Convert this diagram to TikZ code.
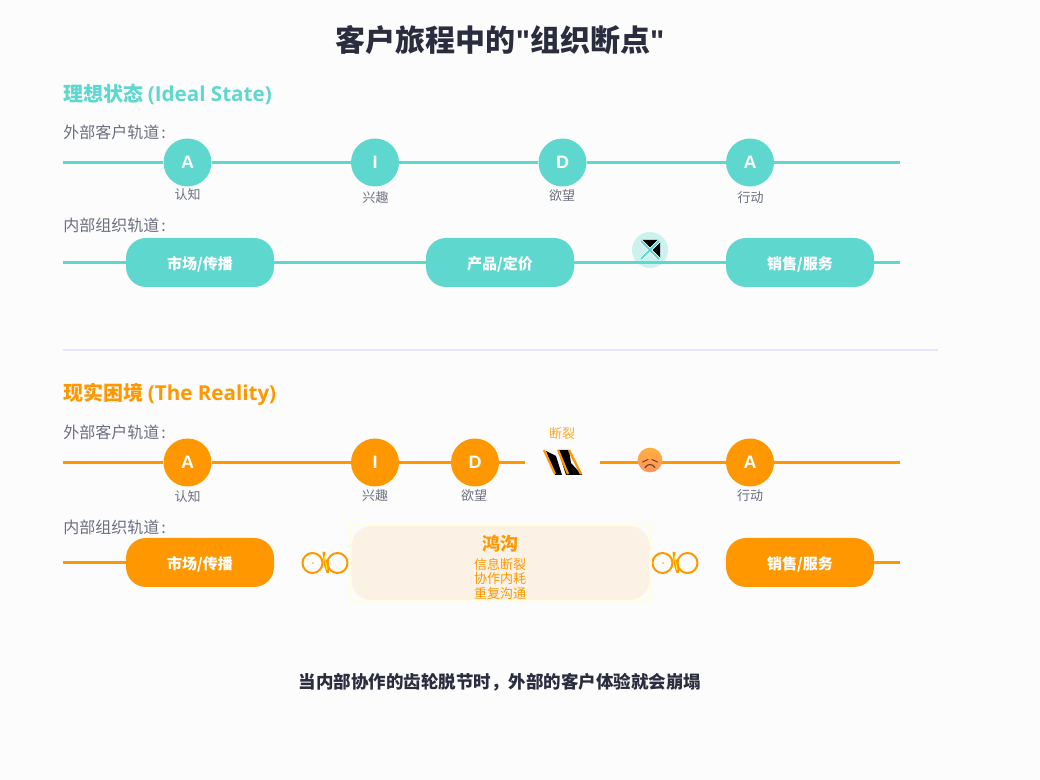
\documentclass[tikz,border=0pt]{standalone}
\usepackage{fontspec}
\setmainfont{Noto Sans CJK SC}
\newfontfamily\lat[Scale=1.03]{Open Sans}
\newfontfamily\ari{Liberation Sans}
\usetikzlibrary{shadings}
\definecolor{bgc}{HTML}{FCFCFD}
\definecolor{teal}{HTML}{5ED8CE}
\definecolor{orng}{HTML}{FF9800}
\definecolor{darkt}{HTML}{2A2D3E}
\definecolor{greyt}{HTML}{6B6F80}
\definecolor{gapf}{HTML}{FBF2E5}
\definecolor{gapb}{HTML}{FFFFE0}
\definecolor{divl}{HTML}{E6E6FA}
\definecolor{facet}{HTML}{FFAE3C}
\definecolor{faceb}{HTML}{FF9560}
\definecolor{facel}{HTML}{6B3A20}
\newcommand{\dn}[1]{\raisebox{-5pt}[0pt][0pt]{#1}}
\tikzset{
  x=0.75pt,y=-0.75pt,
  title/.style={inner sep=0,text=darkt,font=\fontsize{22.5pt}{26pt}\selectfont\bfseries},
  heading/.style={inner sep=0,anchor=west,yshift=-1.2pt,font=\fontsize{15pt}{18pt}\selectfont\bfseries},
  tracklabel/.style={inner sep=0,anchor=west,yshift=-0.4pt,text=greyt,font=\fontsize{12pt}{14pt}\selectfont},
  small/.style={inner sep=0,yshift=-0.4pt,text=greyt,font=\fontsize{9.75pt}{11pt}\selectfont},
  stage/.style={circle,inner sep=0,minimum size=36pt,fill=#1,text=white,font=\ari\fontsize{13.5pt}{16pt}\selectfont\bfseries},
  pill/.style={rectangle,rounded corners=15pt,inner sep=0,minimum width=111pt,minimum height=36.75pt,fill=#1,text=white,font=\fontsize{11.25pt}{13pt}\selectfont\bfseries},
  track/.style={draw=#1,line width=2.25pt},
  gear/.style={circle,inner sep=0,minimum size=15pt,draw=orng,line width=1.5pt},
  gaptext/.style={inner sep=0,text=orng,font=\fontsize{9.75pt}{11pt}\selectfont},
}
\begin{document}
\begin{tikzpicture}
\fill[bgc] (0,0) rectangle (1040,780);
\useasboundingbox (0,0) rectangle (1040,780);

\node[title] (ttl) at (500,40.5) {客户旅程中的{\ari "}组织断点{\ari "}};

% Ideal
\node[heading,text=teal] (h1) at (63,93) {理想状态 {\lat (Ideal State)}};
\node[tracklabel] (l1) at (63,132) {外部客户轨道\kern1.5pt:};
\coordinate (t1l) at (63,162.5);
\coordinate (t1r) at (900,162.5);
\node[stage=teal] (a1) at (187.5,162.5) {A};
\node[stage=teal] (i1) at (375,162.5) {I};
\node[stage=teal] (d1) at (562.5,162.5) {D};
\node[stage=teal] (b1) at (750,162.5) {A};
\draw[track=teal] (t1l) -- (a1) -- (i1) -- (d1) -- (b1) -- (t1r);
\node[small] (a1t) at (187.5,194) {认知};
\node[small] (i1t) at (375.5,197) {兴趣};
\node[small] (d1t) at (562,195) {欲望};
\node[small] (b1t) at (750.5,197) {行动};

\node[tracklabel] (l2) at (63,224.5) {内部组织轨道\kern1.5pt:};
\coordinate (t2l) at (63,262.5);
\coordinate (t2r) at (900,262.5);
\node[pill=teal] (p1) at (200,262.5) {\dn{市场/传播}};
\node[pill=teal] (p2) at (500,262.5) {\dn{产品/定价}};
\node[pill=teal] (p3) at (800,262.5) {\dn{销售/服务}};
\draw[track=teal] (t2l) -- (p1) -- (p2) -- (p3) -- (t2r);

\node[circle,inner sep=0,minimum size=27pt,fill=teal,fill opacity=0.3] (bow) at (650,250) {};
\fill[black] (642,240) -- (658,240) -- (650,248) -- cycle;
\fill[black] (660,242) -- (660,258) -- (652,250) -- cycle;
\draw[white,line width=2.6pt] (641,241) -- (659,259) (659,241) -- (641,259);
\draw[teal,line width=1.5pt] (641,241) -- (659,259) (659,241) -- (641,259);

% divider
\coordinate (dl) at (63,350);
\coordinate (dr) at (938,350);
\draw[divl,line width=1.5pt] (dl) -- (dr);

% Reality
\node[heading,text=orng] (h2) at (63,393) {现实困境 {\lat (The Reality)}};
\node[tracklabel] (l3) at (63,431.5) {外部客户轨道\kern1.5pt:};
\coordinate (t3l) at (63,462.5);
\coordinate (t3m) at (525,462.5);
\coordinate (t3n) at (600,462.5);
\coordinate (t3r) at (900,462.5);
\node[stage=orng] (a2) at (187.5,462.5) {A};
\node[stage=orng] (i2) at (375,462.5) {I};
\node[stage=orng] (d2) at (475,462.5) {D};
\node[stage=orng] (b2) at (750,462.5) {A};
\draw[track=orng] (t3l) -- (a2) -- (i2) -- (d2) -- (t3m);
\draw[track=orng] (t3n) -- (b2) -- (t3r);
\node[small] (a2t) at (187.5,496) {认知};
\node[small] (i2t) at (375,495) {兴趣};
\node[small] (d2t) at (474,495) {欲望};
\node[small] (b2t) at (750,495) {行动};
\node[small,text=orng!85!white] (brk) at (562,433) {断裂};

% break glyph
\fill[black] (546,451) -- (556,456) -- (562,475) -- (555,475) -- cycle;
\fill[black] (558,450) -- (569,450) -- (571,463) -- (582,475) -- (566,475) -- cycle;
\draw[orng,line width=1.7pt] (544,450) -- (555,474);
\draw[orng,line width=1.7pt] (558,450) -- (568,474);
\draw[orng,line width=1.7pt] (569,450) -- (581,474);

% sad face
\node[circle,inner sep=0,minimum size=18.5pt,top color=facet,bottom color=faceb] (sad) at (650,460) {};
\draw[facel,line width=0.7pt,line cap=round] (642.5,462) -- (648,459.5) (657.5,462) -- (652,459.5);
\draw[facel,line width=0.8pt,line cap=round] (645,467.5) .. controls (648,463.5) and (652,463.5) .. (655,467.5);

\node[tracklabel] (l4) at (63,526.5) {内部组织轨道\kern1.5pt:};
\coordinate (t4l) at (63,562.5);
\coordinate (t4r) at (900,562.5);
\node[pill=orng] (p4) at (200,562.5) {\dn{市场/传播}};
\node[pill=orng] (p6) at (800,562.5) {\dn{销售/服务}};
\draw[track=orng] (t4l) -- (p4);
\draw[track=orng] (p6) -- (t4r);

% gears
\node[gear] (g1) at (312.5,563) {};
\node[gear] (g2) at (337.5,563) {};
\node[gear] (g3) at (662.5,563) {};
\node[gear] (g4) at (687.5,563) {};
\fill[orng] (313,563) circle (0.9);
\fill[orng] (663,563) circle (0.9);
\fill[orng] (322.5,552) -- (325.5,552) -- (325,558) -- (328.5,562) -- (329,573) -- (326.5,573) -- (324,565) -- (323.5,560) -- cycle;
\fill[yellow!90!orange] (323.8,556) -- (325,556) -- (327.7,570) -- (326.5,570) -- cycle;
\fill[orng] (672.5,552) -- (675.5,552) -- (675,558) -- (678.5,562) -- (679,573) -- (676.5,573) -- (674,565) -- (673.5,560) -- cycle;
\fill[yellow!90!orange] (673.8,556) -- (675,556) -- (677.7,570) -- (676.5,570) -- cycle;

% gap
\draw[gapb,line width=1.5pt] (350,525) rectangle (651,601);
\node[rectangle,rounded corners=15pt,inner sep=0,minimum width=223.5pt,minimum height=55.5pt,fill=gapf] (gap) at (500.5,563) {};
\node[inner sep=0,text=orng,font=\fontsize{13.5pt}{16pt}\selectfont\bfseries] (g0) at (500,544) {鸿沟};
\node[gaptext] (g5) at (500,564.5) {信息断裂};
\node[gaptext] (g6) at (500,579) {协作内耗};
\node[gaptext] (g7) at (500,594) {重复沟通};

\node[inner sep=0,yshift=-0.7pt,text=darkt,font=\fontsize{13.125pt}{16pt}\selectfont\bfseries] (cap) at (500,681) {当内部协作的齿轮脱节时，外部的客户体验就会崩塌};
\end{tikzpicture}
\end{document}
